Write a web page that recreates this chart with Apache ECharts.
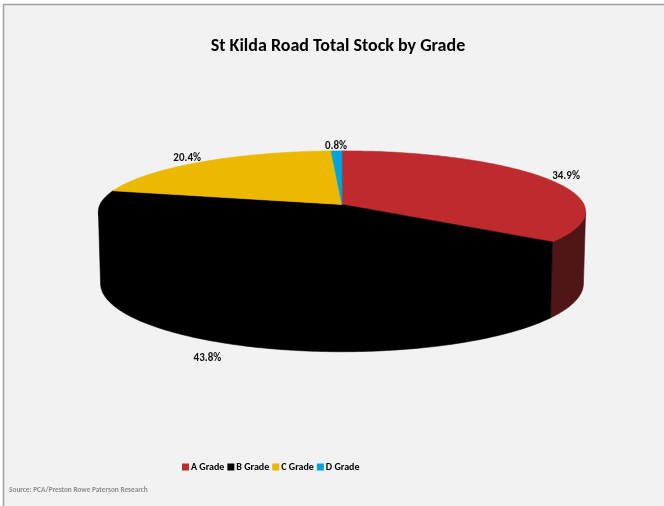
<!DOCTYPE html>
<html>
<head>
<meta charset="utf-8">
<script src="https://cdn.jsdelivr.net/npm/echarts@6/dist/echarts.min.js"></script>
<style>
  html, body { margin: 0; padding: 0; background: #ffffff; }
  #chart { width: 664px; height: 506px; }
</style>
</head>
<body>
<div id="chart"></div>
<script>
// Office stock on St Kilda Road, share by building grade
const grades = ['A Grade', 'B Grade', 'C Grade', 'D Grade'];
const stock = [34.9, 43.8, 20.4, 0.8];
const topColors = ['#BE2A2E', '#000000', '#EDB800', '#00A3DC'];
const wallColors = ['#4F1517', '#000000', '#7A5F00', '#005A7A'];

const FONT = "Carlito, Lato, sans-serif";

// Simple perspective camera looking down on a unit-radius disc of height H
const CX = 342, CY = 204.5, SCALE = 242;
const PHI = 14.3 * Math.PI / 180;
const DIST = 8.45;
const H = 0.3065;

function project(theta, r, z) {
  // theta measured clockwise from the back (12 o'clock)
  const X = r * Math.sin(theta);
  const Y = r * Math.cos(theta);
  const depth = DIST + Y * Math.cos(PHI) - z * Math.sin(PHI);
  const f = DIST / depth;
  return [
    CX + SCALE * X * f,
    CY - SCALE * (Y * Math.sin(PHI) + z * Math.cos(PHI)) * f
  ];
}

const total = stock.reduce((a, b) => a + b, 0);
const starts = [];
{
  let acc = 0;
  stock.forEach(v => { starts.push(acc / total * Math.PI * 2); acc += v; });
}

// outer wall faces the camera only between these angles
const WALL_A = Math.acos(-1 / (DIST * Math.cos(PHI)));
const WALL_B = Math.PI * 2 - WALL_A;

function arc(a0, a1, r, zf) {
  const pts = [];
  const n = Math.max(2, Math.ceil((a1 - a0) / (Math.PI / 180)));
  for (let k = 0; k <= n; k++) {
    const t = a0 + (a1 - a0) * k / n;
    pts.push(project(t, r, zf(t)));
  }
  return pts;
}

function makeRender(i) {
  return function (params, api) {
    const v = api.value(0);
    const a0 = starts[i];
    const a1 = a0 + v / total * Math.PI * 2;
    const children = [];

    const w0 = Math.max(a0, WALL_A), w1 = Math.min(a1, WALL_B);
    if (w1 > w0) {
      // wall top edge tucked under the lid (more at the front) so no seam shows
      const top = arc(w0, w1, 1, t => 0.03 * Math.max(0, -Math.cos(t) - 0.12));
      const bot = arc(w0, w1, 1, () => -H).reverse();
      children.push({
        type: 'polygon', z2: 1,
        shape: { points: top.concat(bot) },
        style: { fill: wallColors[i], stroke: wallColors[i], lineWidth: 0.6 }
      });
    }

    const face = [project(0, 0, 0)].concat(arc(a0, a1, 1, () => 0));
    children.push({
      type: 'polygon', z2: 5,
      shape: { points: face },
      style: { fill: topColors[i], stroke: topColors[i], lineWidth: 0.6 }
    });

    const mid = (a0 + a1) / 2;
    const front = Math.cos(mid) < 0;
    const lp = project(mid, front ? 1.18 : 1.1, front ? -H : 0);
    children.push({
      type: 'text', z2: 10,
      x: lp[0], y: lp[1],
      style: {
        text: (v / total * 100).toFixed(1) + '%',
        fill: '#111111',
        font: 'bold 11px ' + FONT,
        align: 'center',
        verticalAlign: 'middle'
      }
    });
    return { type: 'group', children: children };
  };
}

const chart = echarts.init(document.getElementById('chart'), null, { renderer: 'canvas' });

chart.setOption({
  backgroundColor: '#ffffff',
  animation: false,
  legend: {
    data: grades,
    left: 177,
    top: 457,
    icon: 'rect',
    itemWidth: 7,
    itemHeight: 7,
    itemGap: 3,
    textStyle: { fontFamily: FONT, fontWeight: 'bold', fontSize: 10, color: '#000000', padding: [0, 0, 0, -3] },
    selectedMode: false
  },
  graphic: [
    {
      type: 'rect', z: -10, silent: true,
      shape: { x: 3.5, y: 4.5, width: 700, height: 600 },
      style: { fill: '#F2F2F2', stroke: '#A0A0A0', lineWidth: 1.5 }
    },
    {
      type: 'text', silent: true,
      x: 338, y: 46,
      style: {
        text: 'St Kilda Road Total Stock by Grade',
        font: 'bold 18px ' + FONT,
        fill: '#000000', align: 'center', verticalAlign: 'middle'
      }
    },
    {
      type: 'text', silent: true,
      x: 9, y: 490, scaleX: 0.86,
      style: {
        text: 'Source: PCA/Preston Rowe Paterson Research',
        font: 'bold 8.5px ' + FONT,
        fill: '#8C8C8C', align: 'left', verticalAlign: 'middle'
      }
    }
  ],
  series: grades.map((g, i) => ({
    type: 'custom',
    name: g,
    coordinateSystem: 'none',
    color: topColors[i],
    itemStyle: { color: topColors[i] },
    renderItem: makeRender(i),
    data: [[stock[i]]]
  }))
});
</script>
</body>
</html>
